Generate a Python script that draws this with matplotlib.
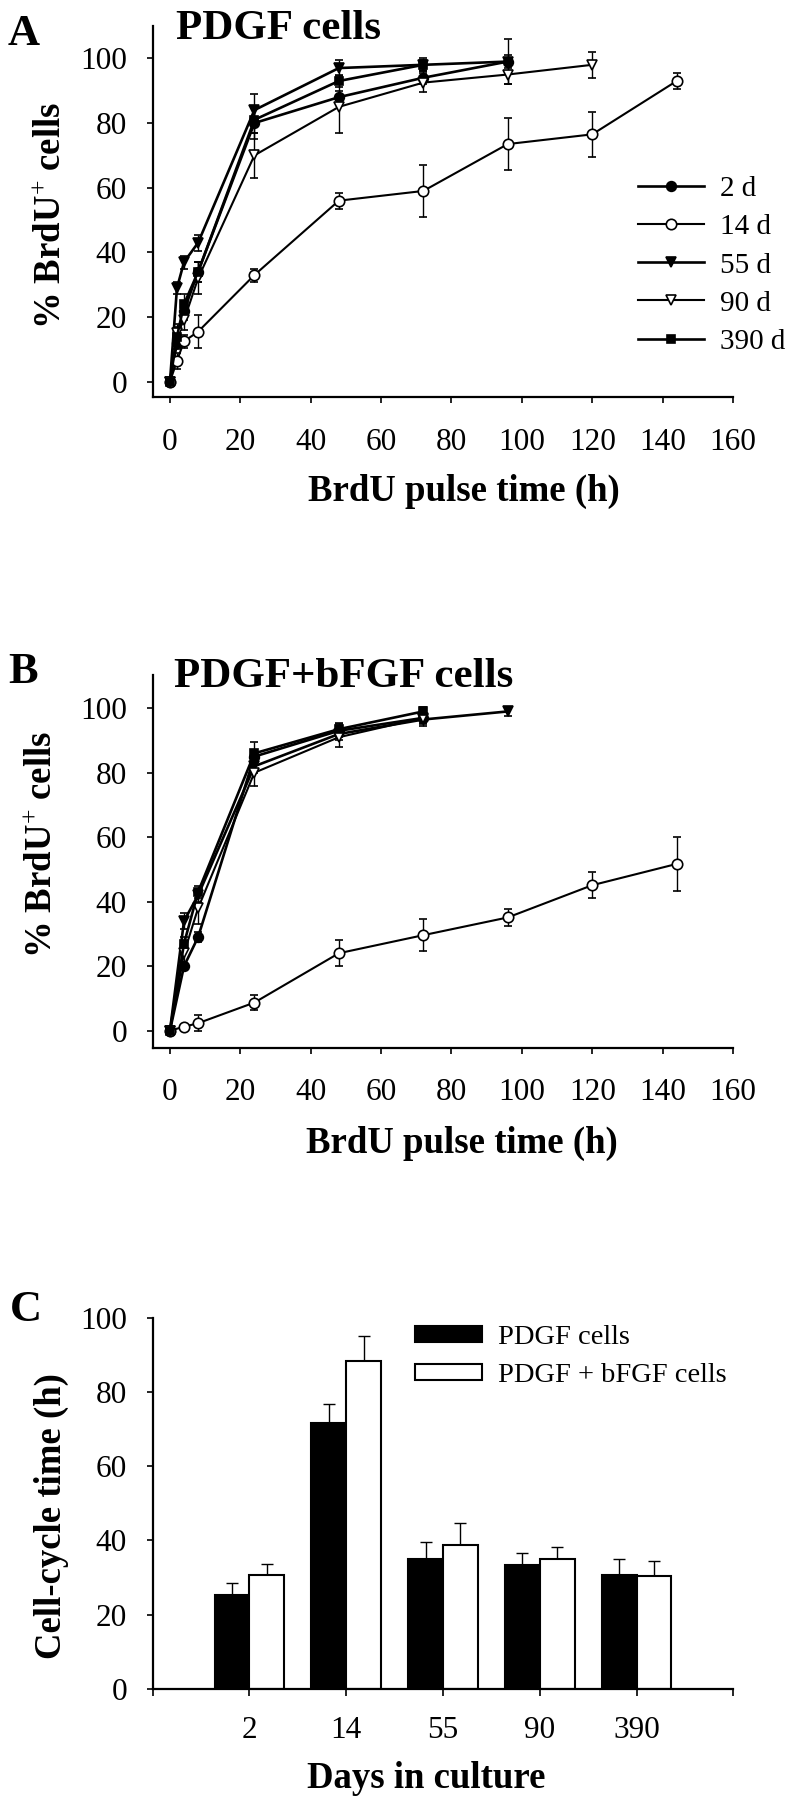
import numpy as np
import matplotlib
matplotlib.use("Agg")
import matplotlib.pyplot as plt

# ---------------- data ----------------
# Panel A: PDGF cells
a_2d_x = [0, 2, 4, 8, 24, 48, 72, 96]
a_2d_y = [0, 12, 22, 34, 80, 88, 94, 99]
a_2d_e = [0, 2, 3, 3, 5, 2, 2, 7]

a_14d_x = [0, 2, 4, 8, 24, 48, 72, 96, 120, 144]
a_14d_y = [0, 6.5, 12.5, 15.5, 33, 56, 59, 73.5, 76.5, 93]
a_14d_e = [0, 2.5, 2, 5, 2, 2.5, 8, 8, 7, 2.5]

a_55d_x = [0, 2, 4, 8, 24, 48, 72, 96]
a_55d_y = [0, 29, 37, 43, 84, 97, 98, 99]
a_55d_e = [0, 2, 2, 2.5, 5, 2.5, 1.5, 2]

a_90d_x = [0, 2, 4, 8, 24, 48, 72, 96, 120]
a_90d_y = [0, 15, 19, 32, 70, 85, 92.5, 95, 98]
a_90d_e = [0, 3, 3, 5, 7, 8, 3, 3, 4]

a_390d_x = [0, 2, 4, 8, 24, 48, 72]
a_390d_y = [0, 14, 24, 34, 81, 93, 98]
a_390d_e = [0, 3, 3, 3, 4, 2, 2]

# Panel B: PDGF+bFGF cells
b_2d_x = [0, 4, 8, 24, 48, 72]
b_2d_y = [0, 20, 29, 85, 93, 97]
b_2d_e = [0, 1, 1.5, 2, 2, 1.5]

b_14d_x = [0, 4, 8, 24, 48, 72, 96, 120, 144]
b_14d_y = [0, 1.2, 2.3, 8.7, 24, 29.6, 35.1, 45.1, 51.7]
b_14d_e = [0, 0.5, 2.5, 2.3, 4, 5, 2.5, 4, 8.3]

b_55d_x = [0, 4, 8, 24, 48, 72, 96]
b_55d_y = [0, 34, 42, 82, 92, 96.5, 99]
b_55d_e = [0, 2.5, 2, 2, 2, 2, 1.5]

b_90d_x = [0, 4, 8, 24, 48, 72]
b_90d_y = [0, 24, 38, 80, 91, 97]
b_90d_e = [0, 3, 5, 4, 3, 2]

b_390d_x = [0, 4, 8, 24, 48, 72]
b_390d_y = [0, 27, 43, 86, 93.5, 99]
b_390d_e = [0, 2, 2, 3.5, 2, 1.5]

series_labels = ["2 d", "14 d", "55 d", "90 d", "390 d"]

# Panel C: cell-cycle time
c_days = ["2", "14", "55", "90", "390"]
c_pdgf = [25.3, 71.8, 34.9, 33.5, 30.6]
c_pdgf_err = [3.1, 5.1, 4.6, 3.2, 4.3]
c_bfgf = [30.6, 88.3, 38.7, 35.0, 30.4]
c_bfgf_err = [3.1, 6.8, 5.9, 3.2, 4.0]

x_ticks = list(range(0, 161, 20))
y_ticks = list(range(0, 101, 20))

# ---------------- style ----------------
plt.rcParams["font.family"] = ["Liberation Serif", "DejaVu Serif"]
plt.rcParams["mathtext.fontset"] = "custom"
plt.rcParams["mathtext.rm"] = "Liberation Serif"
plt.rcParams["mathtext.it"] = "Liberation Serif:italic"
plt.rcParams["mathtext.bf"] = "Liberation Serif:bold"

W, H = 789, 1800
fig = plt.figure(figsize=(W / 100, H / 100), dpi=100)


def add_axes(left, top, right, bottom):
    return fig.add_axes([left / W, 1 - bottom / H, (right - left) / W, (bottom - top) / H])


def ftext(x, y, s, **kw):
    fig.text(x / W, 1 - y / H, s, **kw)


TICK_FS = 22.5
LABEL_FS = 26.5
TITLE_FS = 31
LETTER_FS = 32


def style_axes(ax, xpad, ypad):
    for s in ["top", "right"]:
        ax.spines[s].set_visible(False)
    for s in ["left", "bottom"]:
        ax.spines[s].set_linewidth(1.6)
    ax.tick_params(axis="both", direction="out", length=4.5, width=1.2,
                   labelsize=TICK_FS)
    ax.tick_params(axis="x", pad=xpad)
    ax.tick_params(axis="y", pad=ypad)


marker_styles = [
    dict(marker="o", mfc="black", ms=7, lw=1.9),
    dict(marker="o", mfc="white", ms=7.5, lw=1.5),
    dict(marker="v", mfc="black", ms=7.5, lw=1.9),
    dict(marker="v", mfc="white", ms=7.5, lw=1.5),
    dict(marker="s", mfc="black", ms=6, lw=1.9),
]


def draw_lines(ax, data):
    handles = []
    for (x, y, e), st, lab in zip(data, marker_styles, series_labels):
        h = ax.errorbar(x, y, yerr=e, color="black", marker=st["marker"],
                        mfc=st["mfc"], mec="black", mew=1.2, ms=st["ms"],
                        lw=st["lw"], elinewidth=1.0, capsize=3, capthick=1.0,
                        label=lab)
        handles.append(h)
    return handles


# ---------------- Panel A ----------------
axA = add_axes(152.7, 26, 733, 397)
hA = draw_lines(axA, [(a_2d_x, a_2d_y, a_2d_e), (a_14d_x, a_14d_y, a_14d_e),
                      (a_55d_x, a_55d_y, a_55d_e), (a_90d_x, a_90d_y, a_90d_e),
                      (a_390d_x, a_390d_y, a_390d_e)])
axA.set_xlim(-4.9, 160)
axA.set_ylim(-4.7, 110)
axA.set_xticks(x_ticks)
axA.set_yticks(y_ticks)
style_axes(axA, 17.5, 14)

lines_only = [h.lines[0] for h in hA]
axA.legend(lines_only, series_labels, loc="upper left",
           bbox_to_anchor=(638 / W, 1 - 176 / H), bbox_transform=fig.transFigure,
           frameon=False, fontsize=21, handlelength=2.26, handletextpad=0.55,
           labelspacing=0.40, borderpad=0, borderaxespad=0)

ftext(8, 45, "A", fontsize=LETTER_FS, fontweight="bold", ha="left", va="baseline")
ftext(176, 39, "PDGF cells", fontsize=TITLE_FS, fontweight="bold", ha="left", va="baseline")
ftext(464, 501, "BrdU pulse time (h)", fontsize=LABEL_FS, fontweight="bold",
      ha="center", va="baseline")
ftext(60, 215, r"% BrdU$^{+}$ cells", fontsize=LABEL_FS, fontweight="bold",
      ha="center", va="baseline", rotation=90, rotation_mode="anchor")

# ---------------- Panel B ----------------
axB = add_axes(152.7, 675, 733, 1047.7)
draw_lines(axB, [(b_2d_x, b_2d_y, b_2d_e), (b_14d_x, b_14d_y, b_14d_e),
                 (b_55d_x, b_55d_y, b_55d_e), (b_90d_x, b_90d_y, b_90d_e),
                 (b_390d_x, b_390d_y, b_390d_e)])
axB.set_xlim(-4.9, 160)
axB.set_ylim(-5.3, 110.3)
axB.set_xticks(x_ticks)
axB.set_yticks(y_ticks)
style_axes(axB, 17.5, 14)

ftext(8, 683, "B", fontsize=LETTER_FS, fontweight="bold", ha="left", va="baseline")
ftext(174, 687, "PDGF+bFGF cells", fontsize=TITLE_FS, fontweight="bold", ha="left", va="baseline")
ftext(462, 1153, "BrdU pulse time (h)", fontsize=LABEL_FS, fontweight="bold",
      ha="center", va="baseline")
ftext(51, 844, r"% BrdU$^{+}$ cells", fontsize=LABEL_FS, fontweight="bold",
      ha="center", va="baseline", rotation=90, rotation_mode="anchor")

# ---------------- Panel C ----------------
axC = add_axes(152.7, 1318, 733.3, 1688.7)
pos = np.arange(1, len(c_days) + 1)
bw = 0.36
axC.bar(pos - bw, c_pdgf, width=bw, align="edge", color="black",
        edgecolor="black", lw=1.5, label="PDGF cells", zorder=2)
axC.bar(pos, c_bfgf, width=bw, align="edge", facecolor="white",
        edgecolor="black", lw=1.5, label="PDGF + bFGF cells", zorder=2)
zeros = np.zeros(len(c_days))
axC.errorbar(pos - bw / 2, c_pdgf, yerr=[zeros, c_pdgf_err], fmt="none",
             ecolor="black", elinewidth=1.0, capsize=4, capthick=1.0, zorder=1)
axC.errorbar(pos + bw / 2, c_bfgf, yerr=[zeros, c_bfgf_err], fmt="none",
             ecolor="black", elinewidth=1.0, capsize=4, capthick=1.0, zorder=1)
axC.set_xlim(0, len(c_days) + 1)
axC.set_ylim(0, 100)
axC.set_xticks(np.arange(0, len(c_days) + 2))
axC.set_xticklabels([""] + c_days + [""])
axC.set_yticks(y_ticks)
style_axes(axC, 15, 14)
axC.tick_params(axis="x", length=5)

axC.legend(loc="upper left", bbox_to_anchor=(415 / W, 1 - 1325 / H),
           bbox_transform=fig.transFigure, frameon=False, fontsize=20.5,
           handlelength=2.36, handleheight=0.5, handletextpad=0.55,
           labelspacing=0.45, borderpad=0, borderaxespad=0)

ftext(10, 1321, "C", fontsize=LETTER_FS, fontweight="bold", ha="left", va="baseline")
ftext(426, 1788, "Days in culture", fontsize=LABEL_FS, fontweight="bold",
      ha="center", va="baseline")
ftext(61, 1516, "Cell-cycle time (h)", fontsize=LABEL_FS, fontweight="bold",
      ha="center", va="baseline", rotation=90, rotation_mode="anchor")

fig.savefig("out.png", dpi=100)
